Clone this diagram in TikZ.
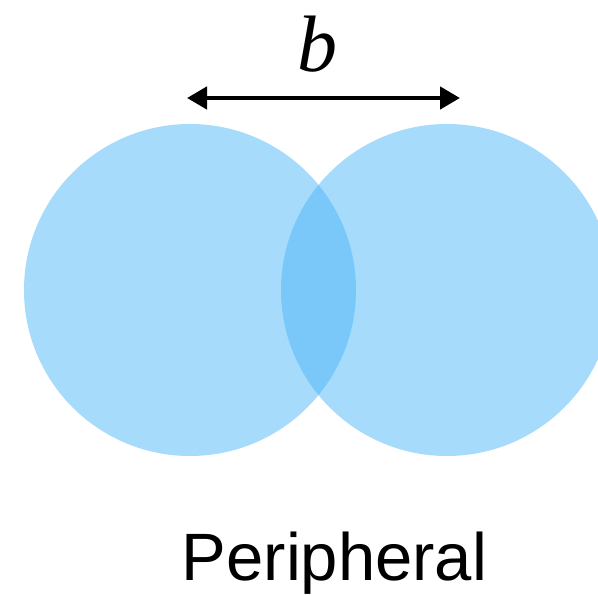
\documentclass[tikz,border=0pt]{standalone}
\usepackage{fontspec}
\setsansfont{Liberation Sans}
\newfontfamily\bfam{Liberation Serif}
\usetikzlibrary{arrows.meta}
\definecolor{disc}{RGB}{71,180,247}
\begin{document}
\begin{tikzpicture}[x=1pt,y=-1pt,
  discstyle/.style={fill=disc,fill opacity=0.48,draw=none},
  dimline/.style={line width=4.5pt,{Triangle[length=20pt,width=22pt]}-{Triangle[length=20pt,width=22pt]}}]
\useasboundingbox (0,0) rectangle (598,596);
\begin{scope}
\clip (0,0) rectangle (598,596);
\fill[discstyle] (190,290) circle (166);
\fill[discstyle] (447,290) circle (166);
\end{scope}
\coordinate (l) at (187,98);
\coordinate (r) at (460,98);
\draw[dimline] (l) -- (r);
\node[anchor=base,inner sep=0pt,font=\bfam\itshape\fontsize{80}{90}\selectfont] (b) at (317,72) {b};
\node[anchor=base,inner sep=0pt,font=\sffamily\fontsize{67}{75}\selectfont] (lab) at (334.5,580) {Peripheral};
\end{tikzpicture}
\end{document}
